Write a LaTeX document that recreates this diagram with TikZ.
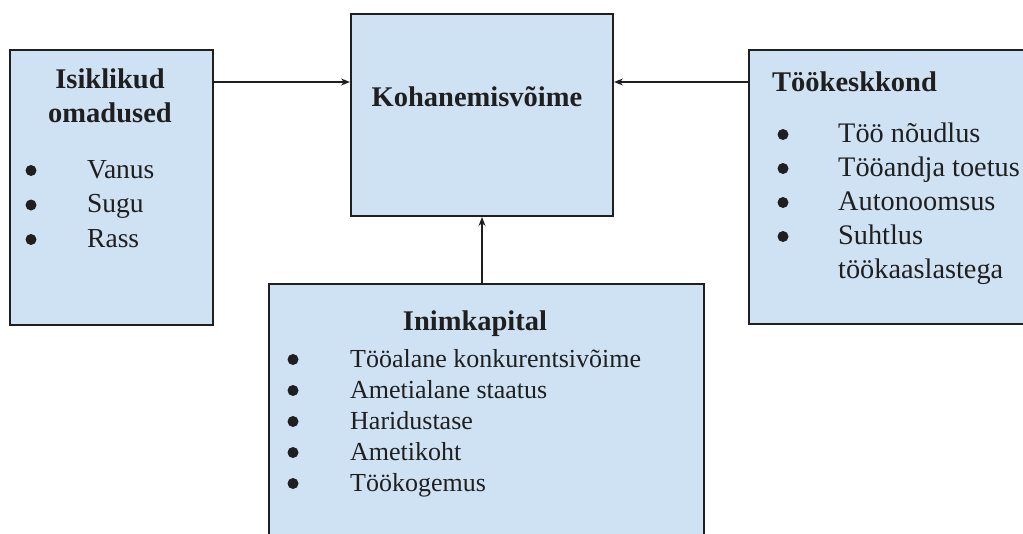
\documentclass[tikz,border=0pt]{standalone}
\usepackage{fontspec}
\setmainfont{Liberation Serif}
\usetikzlibrary{arrows.meta}
\definecolor{boxfill}{HTML}{CFE2F3}
\definecolor{ink}{HTML}{1F1F1F}
\begin{document}
\begin{tikzpicture}[x=1pt,y=-1pt,
  box/.style={draw=ink, line width=2pt, fill=boxfill, inner sep=0pt, anchor=north west},
  ttl/.style={font=\fontsize{28.5}{34}\selectfont\bfseries, text=ink, inner sep=0pt},
  itmL/.style={font=\fontsize{27.5}{33}\selectfont, text=ink, inner sep=0pt, anchor=base west},
  itmR/.style={font=\fontsize{28.3}{34}\selectfont, text=ink, inner sep=0pt, anchor=base west},
  itmB/.style={font=\fontsize{26}{31}\selectfont, text=ink, inner sep=0pt, anchor=base west},
  dot/.style={circle, fill=ink, inner sep=0pt, minimum size=11pt},
  arr/.style={-{Stealth[length=9pt,width=7pt]}, line width=1.3pt, draw=ink}]
\useasboundingbox (0,0) rectangle (1023,533);
\clip (0,0) rectangle (1023,533);
% boxes
\node[box, minimum width=203pt, minimum height=275pt] (lbox) at (9,49) {};
\node[box, minimum width=262pt, minimum height=202pt] (cbox) at (350,13) {};
\node[box, minimum width=290pt, minimum height=274pt] (rbox) at (748,49) {};
\node[box, minimum width=435pt, minimum height=270pt] (bbox) at (268,283) {};
% left box
\node[ttl, anchor=base] (lt1) at (110,88) {Isiklikud};
\node[ttl, anchor=base] (lt2) at (110,122) {omadused};
\node[dot] (ld1) at (31,170.5) {};
\node[dot] (ld2) at (31,205) {};
\node[dot] (ld3) at (31,239.5) {};
\node[itmL] (li1) at (87,178) {Vanus};
\node[itmL] (li2) at (87,212.5) {Sugu};
\node[itmL] (li3) at (87,247) {Rass};
% center box
\node[ttl, anchor=base] (ct) at (477,106) {Kohanemisvõime};
% right box
\node[ttl, anchor=base west] (rt) at (772,91) {Töökeskkond};
\node[dot] (rd1) at (783,134.5) {};
\node[dot] (rd2) at (783,168.5) {};
\node[dot] (rd3) at (783,202.5) {};
\node[dot] (rd4) at (783,236.5) {};
\node[itmR] (ri1) at (838,142) {Töö nõudlus};
\node[itmR] (ri2) at (838,176) {Tööandja toetus};
\node[itmR] (ri3) at (838,210) {Autonoomsus};
\node[itmR] (ri4) at (838,244) {Suhtlus};
\node[itmR] (ri5) at (838,278) {töökaaslastega};
% bottom box
\node[ttl, anchor=base] (bt) at (475,330) {Inimkapital};
\node[dot] (bd1) at (293,359.5) {};
\node[dot] (bd2) at (293,390.5) {};
\node[dot] (bd3) at (293,421.5) {};
\node[dot] (bd4) at (293,452.5) {};
\node[dot] (bd5) at (293,483.5) {};
\node[itmB] (bi1) at (350,367) {Tööalane konkurentsivõime};
\node[itmB] (bi2) at (350,398) {Ametialane staatus};
\node[itmB] (bi3) at (350,429) {Haridustase};
\node[itmB] (bi4) at (350,460) {Ametikoht};
\node[itmB] (bi5) at (350,491) {Töökogemus};
% connectors
\coordinate (ya) at (0,82);
\draw[arr] (lbox.east |- ya) -- (cbox.west |- ya);
\draw[arr] (rbox.west |- ya) -- (cbox.east |- ya);
\draw[arr] (cbox.south |- bbox.north) -- (cbox.south);
\end{tikzpicture}
\end{document}
